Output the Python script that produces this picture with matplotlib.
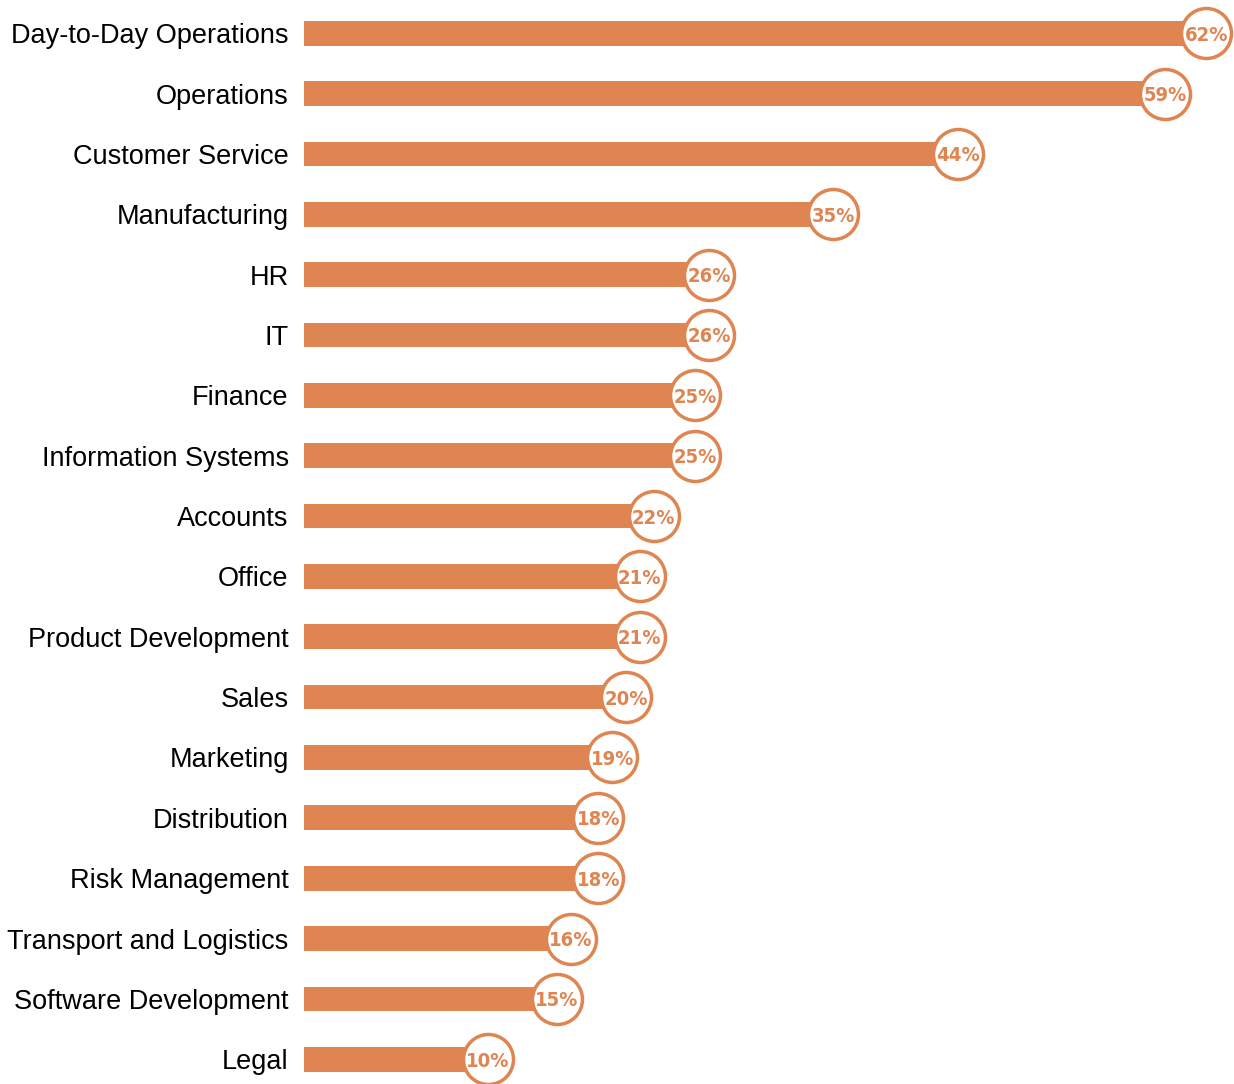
import matplotlib

matplotlib.use("Agg")
import matplotlib.pyplot as plt
from matplotlib import font_manager

categories = [
    "Day-to-Day Operations", "Operations", "Customer Service", "Manufacturing",
    "HR", "IT", "Finance", "Information Systems", "Accounts", "Office",
    "Product Development", "Sales", "Marketing", "Distribution",
    "Risk Management", "Transport and Logistics", "Software Development", "Legal",
]
values = [62, 59, 44, 35, 26, 26, 25, 25, 22, 21, 21, 20, 19, 18, 18, 16, 15, 10]
labels = [f"{v}%" for v in values]

# show which narrow fonts exist
names = sorted({f.name for f in font_manager.fontManager.ttflist})
print(names)
print(sorted({(f.name, f.stretch) for f in font_manager.fontManager.ttflist if "DejaVu" in f.name or "Liberation" in f.name or "Roboto" in f.name}))

color = "#DF8551"
W, H = 1234, 1084
fig = plt.figure(figsize=(W / 100, H / 100), dpi=100)
ax = fig.add_axes([304 / W, 0, 1 - 304 / W, 1])

y = list(range(len(categories)))
start = -3.3
ax.barh(y, [v - start for v in values], left=start, height=0.41, color=color, zorder=1)
ax.scatter(values, y, s=1296, facecolor="white", edgecolor=color, linewidth=2.5, zorder=3)
for v, yy, lab in zip(values, y, labels):
    ax.text(v, yy, lab, ha="center", va="center_baseline", color=color, fontsize=14.5,
            fontweight="bold", fontstretch="condensed",
            family=["DejaVu Sans", "Roboto"], zorder=4)

ax.set_yticks(y)
ax.set_yticklabels(categories, fontsize=19.5, family=["Liberation Sans", "DejaVu Sans"])
ax.tick_params(axis="y", length=0, pad=11)
ax.set_xticks([])
ax.set_xlim(start, 64.0)
ax.set_ylim(17.41, -0.55)
for s in ax.spines.values():
    s.set_visible(False)

fig.savefig("out.png", dpi=100)
